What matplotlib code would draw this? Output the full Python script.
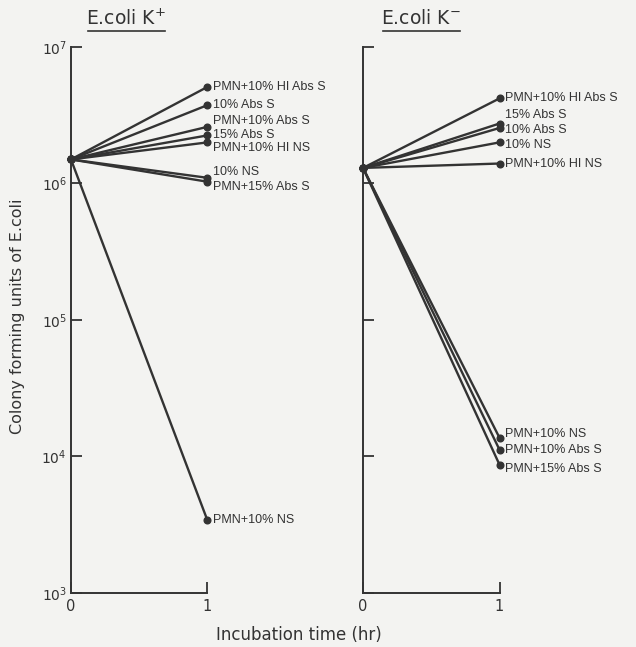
import matplotlib.pyplot as plt
import numpy as np

# Data
times = [0, 1]

kpos_labels = ['PMN+10% HI Abs S', '10% Abs S', 'PMN+10% Abs S', '15% Abs S',
               'PMN+10% HI NS', '10% NS', 'PMN+15% Abs S', 'PMN+10% NS']
kpos_start = 1.5e6
kpos_end = [5.1e6, 3.75e6, 2.6e6, 2.25e6, 2.0e6, 1.1e6, 1.03e6, 3.4e3]

kneg_labels = ['PMN+10% HI Abs S', '15% Abs S', '10% Abs S', '10% NS',
               'PMN+10% HI NS', 'PMN+10% NS', 'PMN+10% Abs S', 'PMN+15% Abs S']
kneg_start = 1.3e6
kneg_end = [4.2e6, 2.75e6, 2.55e6, 2.0e6, 1.4e6, 1.37e4, 1.12e4, 8.7e3]

# label nudges in points (to keep stacked labels readable)
kpos_dy = [0, 0, 4, 0, -4, 4, -4, 0]
kneg_dy = [0, 6, -1.5, -2, 0, 3, 0, -3]

ink = '#333333'
paper = '#f3f3f1'

fig = plt.figure(figsize=(6.36, 6.47), dpi=100, facecolor=paper)
ax1 = fig.add_axes([0.1116, 0.0835, 0.2146, 0.8439])
ax2 = fig.add_axes([0.5708, 0.0835, 0.2146, 0.8439])


def panel(ax, start, ends, labels, dys, show_ylabels):
    ax.set_facecolor(paper)
    for end, lab, dy in zip(ends, labels, dys):
        ax.plot(times, [start, end], color=ink, lw=1.7, marker='o', ms=4.8,
                solid_capstyle='round', clip_on=False)
        ax.annotate(lab, xy=(1, end), xytext=(4, dy), textcoords='offset points',
                    va='center', ha='left', fontsize=9, color=ink,
                    family='Liberation Sans', annotation_clip=False)
    ax.set_yscale('log')
    ax.set_ylim(1e3, 1e7)
    ax.set_xlim(0, 1)
    ax.set_yticks([1e3, 1e4, 1e5, 1e6, 1e7])
    ax.minorticks_off()
    ax.set_xticks([0, 1])
    ax.set_xticklabels(['0', '1'], fontsize=10.5, color=ink)
    if show_ylabels:
        ax.set_yticklabels(['$10^3$', '$10^4$', '$10^5$', '$10^6$', '$10^7$'],
                           fontsize=10, color=ink)
    else:
        ax.set_yticklabels([])
    ax.tick_params(axis='y', direction='in', length=8, width=1.3, color=ink, pad=3)
    ax.tick_params(axis='x', direction='in', length=8, width=1.3, color=ink, pad=4)
    for s in ['top', 'right']:
        ax.spines[s].set_visible(False)
    for s in ['left', 'bottom']:
        ax.spines[s].set_linewidth(1.4)
        ax.spines[s].set_color(ink)


panel(ax1, kpos_start, kpos_end, kpos_labels, kpos_dy, True)
panel(ax2, kneg_start, kneg_end, kneg_labels, kneg_dy, False)

# underlined panel titles like the original
fig.text(126 / 636, 1 - 19 / 647, 'E.coli K$^{+}$', ha='center', va='center',
         fontsize=13.5, color=ink)
fig.text(421 / 636, 1 - 19 / 647, 'E.coli K$^{-}$', ha='center', va='center',
         fontsize=13.5, color=ink)
fig.add_artist(plt.Line2D([88 / 636, 165 / 636], [1 - 31 / 647] * 2, color=ink, lw=1.2))
fig.add_artist(plt.Line2D([383 / 636, 460 / 636], [1 - 31 / 647] * 2, color=ink, lw=1.2))

fig.text(18 / 636, 1 - 316 / 647, 'Colony forming units of E.coli', rotation=90,
         ha='center', va='center', fontsize=11.5, color=ink)
fig.text(299 / 636, 1 - 635 / 647, 'Incubation time (hr)', ha='center', va='center',
         fontsize=12, color=ink)

fig.savefig('out.png', dpi=100, facecolor=paper)
